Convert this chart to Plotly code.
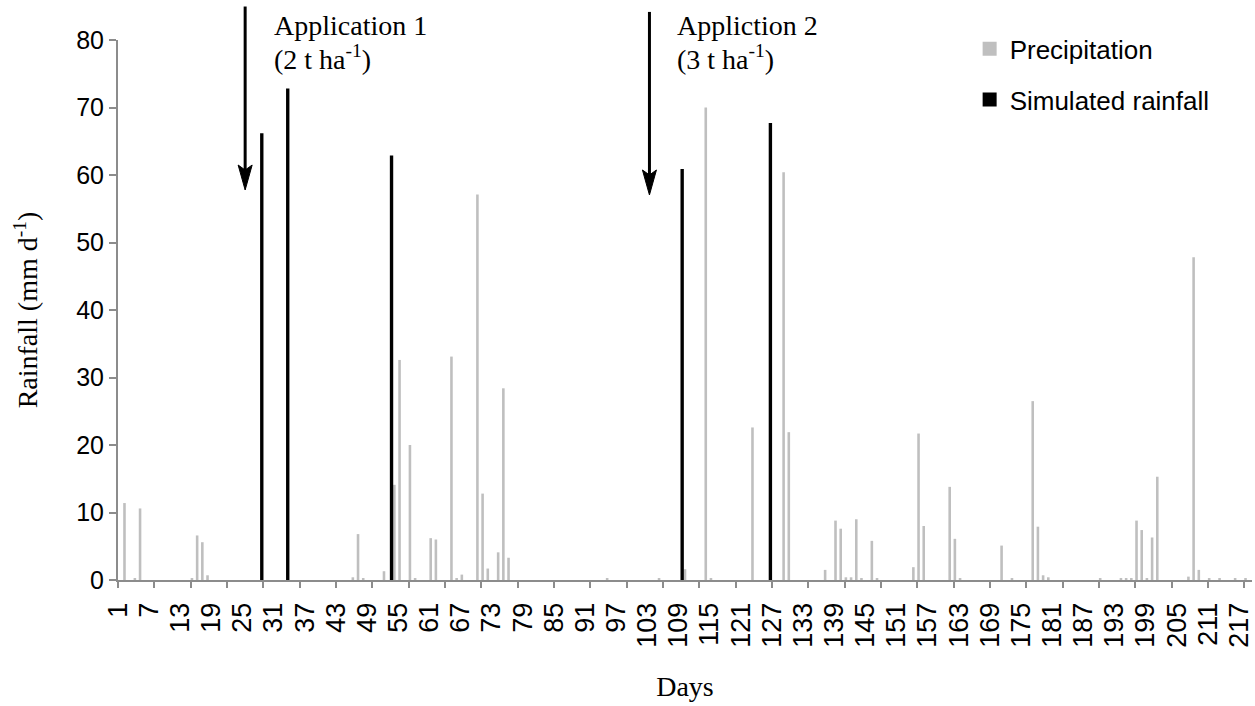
import plotly.graph_objects as go

# Daily rainfall over the study period (day of experiment, mm/day)
precip_days = [2, 4, 5, 15, 16, 17, 18, 46, 47, 48, 52, 54, 55, 57, 58, 61, 62,
               65, 66, 67, 70, 71, 72, 74, 75, 76, 95, 105, 110, 114, 115, 123,
               129, 130, 137, 139, 140, 141, 142, 143, 144, 146, 147, 154, 155,
               156, 161, 162, 163, 171, 173, 177, 178, 179, 180, 190, 194, 195,
               196, 197, 198, 199, 200, 201, 207, 208, 209, 211, 213, 216, 218]
precip_mm = [11.4, 0.2, 10.6, 0.3, 6.6, 5.6, 0.7, 0.4, 6.8, 0.2, 1.3, 14.1, 32.6,
             20.0, 0.2, 6.2, 6.0, 33.1, 0.3, 0.8, 57.1, 12.8, 1.7, 4.1, 28.4, 3.3,
             0.3, 0.2, 1.6, 70.0, 0.2, 22.6, 60.4, 21.9, 1.5, 8.8, 7.6, 0.4, 0.4,
             9.0, 0.2, 5.8, 0.2, 1.9, 21.7, 8.0, 13.8, 6.1, 0.2, 5.1, 0.2, 26.5,
             7.9, 0.7, 0.4, 0.2, 0.3, 0.3, 0.3, 8.8, 7.4, 0.2, 6.3, 15.3, 0.5,
             47.8, 1.5, 0.2, 0.2, 0.2, 0.2]

# Rainfall simulator events
sim_days = [29, 34, 54, 110, 127]
sim_mm = [66.2, 72.8, 62.9, 60.9, 67.7]

# Category labels shown every 6 days, tick marks every 7 days
label_days = [1, 7, 13, 19, 25, 31, 37, 43, 49, 55, 61, 67, 73, 79, 85, 91, 97,
              103, 109, 115, 121, 127, 133, 139, 145, 151, 157, 163, 169, 175,
              181, 187, 193, 199, 205, 211, 217]
tick_days = [1, 8, 15, 22, 29, 36, 43, 50, 57, 64, 71, 78, 85, 92, 99, 106, 113,
             120, 127, 134, 141, 148, 155, 162, 169, 176, 183, 190, 197, 204,
             211, 218]

# Application dates (arrow position in days) and captions
app_arrow_days = [25.5, 103.4]
app_caption_days = [30.7, 108.4]
app_titles = ["Application 1", "Appliction 2"]
app_rates = ["(2 t ha<sup>-1</sup>)", "(3 t ha<sup>-1</sup>)"]

SANS = "Liberation Sans, Arial, sans-serif"
SERIF = "Liberation Serif, Times New Roman, serif"
AXIS_GREY = "#8c8c8c"
PRECIP_GREY = "#bfbfbf"

fig = go.Figure()
fig.add_trace(go.Bar(
    x=precip_days, y=precip_mm, name="Precipitation",
    marker=dict(color=PRECIP_GREY, line=dict(width=0)),
    width=0.5, offset=0.0, xaxis="x", showlegend=False,
))
fig.add_trace(go.Bar(
    x=sim_days, y=sim_mm, name="Simulated rainfall",
    marker=dict(color="#000000", line=dict(width=0)),
    width=0.65, offset=-0.62, xaxis="x2", showlegend=False,
))

# Legend keys drawn as square markers
for name, colour, grp in [("Precipitation", PRECIP_GREY, "p"),
                          ("Simulated rainfall", "#000000", "s")]:
    fig.add_trace(go.Scatter(
        x=[None], y=[None], mode="markers", name=name, legendgroup=grp,
        marker=dict(symbol="square", size=14, color=colour),
        hoverinfo="skip",
    ))

# Application arrows: shaft plus narrow notched head
shapes = []
for day, tip, tail in zip(app_arrow_days, [0.7222, 0.713], [1.062, 1.052]):
    shapes.append(dict(
        type="line", xref="x", yref="paper", x0=day, x1=day,
        y0=tail, y1=tip + 0.03, line=dict(color="#000000", width=3),
    ))
    shapes.append(dict(
        type="path", xref="x", yref="paper",
        xsizemode="pixel", ysizemode="pixel",
        xanchor=day, yanchor=tip,
        path="M0,0 L-7,25 L0,20 L7,25 Z",
        fillcolor="#000000", line=dict(color="#000000", width=1),
    ))

annotations = []
for day, line1, line2 in zip(app_caption_days, app_titles, app_rates):
    annotations.append(dict(
        x=day, y=1.026, xref="x", yref="paper", text=line1,
        xanchor="left", yanchor="middle", showarrow=False,
        font=dict(family=SERIF, size=28, color="#000000"),
    ))
    annotations.append(dict(
        x=day, y=0.967, xref="x", yref="paper", text=line2,
        xanchor="left", yanchor="middle", showarrow=False,
        font=dict(family=SERIF, size=28, color="#000000"),
    ))

fig.update_layout(
    width=1255, height=706,
    margin=dict(l=118, r=3, t=40, b=126, autoexpand=False),
    paper_bgcolor="white", plot_bgcolor="white",
    barmode="overlay",
    showlegend=True,
    legend=dict(
        x=0.751, xanchor="left", y=1.027, yanchor="top",
        font=dict(family=SANS, size=26, color="#000000"),
        tracegroupgap=14, bgcolor="rgba(0,0,0,0)", traceorder="grouped",
        itemsizing="trace",
    ),
    xaxis=dict(
        range=[1, 219.5], showgrid=False, zeroline=False, automargin=False,
        showline=True, linecolor=AXIS_GREY, linewidth=2,
        tickmode="array", tickvals=label_days,
        ticktext=[str(d) for d in label_days],
        tickangle=-90, ticks="outside", ticklen=10,
        tickcolor="rgba(0,0,0,0)", ticklabeloverflow="allow",
        tickfont=dict(family=SANS, size=27, color="#000000"),
        title=dict(text="Days", standoff=30,
                   font=dict(family=SERIF, size=28, color="#000000")),
    ),
    xaxis2=dict(
        overlaying="x", matches="x", anchor="y", side="bottom",
        showgrid=False, zeroline=False, showline=False, automargin=False,
        tickmode="array", tickvals=tick_days, ticks="outside", ticklen=7,
        tickwidth=2, tickcolor=AXIS_GREY, showticklabels=False,
    ),
    yaxis=dict(
        range=[0, 80], dtick=10, showgrid=False, zeroline=False,
        automargin=False,
        showline=True, linecolor=AXIS_GREY, linewidth=2,
        ticks="outside", ticklen=7, tickwidth=2, tickcolor=AXIS_GREY,
        tickfont=dict(family=SANS, size=25, color="#000000"),
        title=dict(text="Rainfall (mm d<sup>-1</sup>)", standoff=30,
                   font=dict(family=SERIF, size=28, color="#000000")),
    ),
    shapes=shapes,
    annotations=annotations,
)

fig.write_html("out.html")
